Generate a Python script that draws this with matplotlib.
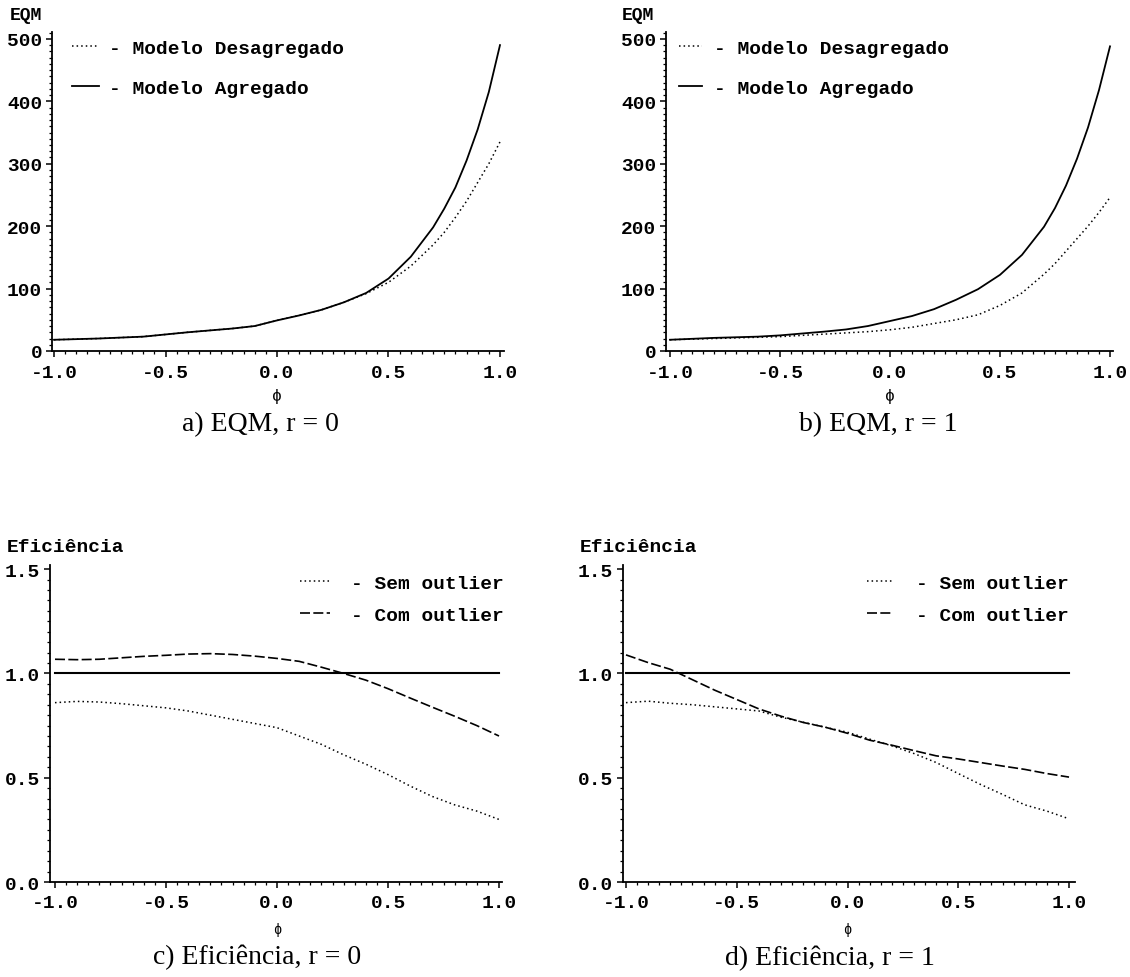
import matplotlib
matplotlib.use("Agg")
import matplotlib.pyplot as plt
from matplotlib.ticker import MultipleLocator, FormatStrFormatter

# data

# EQM panels: extra points near the steep end
phi_eqm = [-1.0, -0.9, -0.8, -0.7, -0.6, -0.5, -0.4, -0.3, -0.2, -0.1, 0.0,
           0.1, 0.2, 0.3, 0.4, 0.5, 0.6, 0.7, 0.75, 0.8, 0.85, 0.9, 0.95, 1.0]

# EQM, r = 0
eqm_desag_r0 = [18, 19, 20, 21.5, 23, 26.5, 30, 33, 36, 40, 49,
                57, 66, 78, 92, 110, 136, 170, 190, 214, 240, 270, 300, 335]
eqm_agreg_r0 = [18, 19, 20, 21.5, 23, 26.5, 30, 33, 36, 40, 49,
                57, 66, 78, 93, 116, 151, 198, 228, 262, 305, 355, 415, 490]

# EQM, r = 1
eqm_desag_r1 = [18, 19, 20, 21, 22, 23, 25, 27, 29, 31, 34,
                38, 44, 50, 58, 73, 93, 123, 140, 160, 180, 200, 222, 246]
eqm_agreg_r1 = [18, 19.5, 21, 22, 23, 25, 28, 31, 34.5, 40, 48,
                56, 67, 82, 99, 122, 154, 199, 229, 265, 308, 358, 418, 488]

# Eficiencia panels
phi = [-1.0, -0.9, -0.8, -0.7, -0.6, -0.5, -0.4, -0.3, -0.2, -0.1, 0.0,
       0.1, 0.2, 0.3, 0.4, 0.5, 0.6, 0.7, 0.8, 0.9, 1.0]

# Eficiencia, r = 0
ef_sem_r0 = [0.86, 0.866, 0.863, 0.855, 0.845, 0.835, 0.82, 0.80, 0.78, 0.76, 0.74,
             0.70, 0.66, 0.61, 0.565, 0.515, 0.46, 0.41, 0.37, 0.34, 0.30]
ef_com_r0 = [1.068, 1.066, 1.068, 1.075, 1.082, 1.087, 1.093, 1.095, 1.091, 1.083, 1.072,
             1.058, 1.03, 1.0, 0.968, 0.927, 0.882, 0.838, 0.795, 0.75, 0.70]

# Eficiencia, r = 1
ef_sem_r1 = [0.86, 0.867, 0.857, 0.85, 0.84, 0.83, 0.82, 0.79, 0.766, 0.742, 0.718,
             0.685, 0.653, 0.616, 0.573, 0.52, 0.468, 0.42, 0.37, 0.34, 0.303]
ef_com_r1 = [1.089, 1.052, 1.02, 0.97, 0.92, 0.875, 0.83, 0.795, 0.765, 0.742, 0.713,
             0.68, 0.656, 0.63, 0.605, 0.59, 0.573, 0.556, 0.54, 0.52, 0.503]

ref_x = [-1.0, 1.0]
ref_y = [1.0, 1.0]

captions = ["a) EQM, r = 0", "b) EQM, r = 1",
            "c) Eficiência, r = 0", "d) Eficiência, r = 1"]

W, H = 1130, 978
MONO = "Liberation Mono"
SERIF = "Liberation Serif"

fig = plt.figure(figsize=(W / 100, H / 100), dpi=100)


def px_axes(left, right, top, bottom):
    return fig.add_axes([left / W, 1 - bottom / H, (right - left) / W, (bottom - top) / H])


def style(ax, xlim, ylim, ymajor, yminor, yfmt):
    ax.set_xlim(*xlim)
    ax.set_ylim(*ylim)
    for s in ["top", "right"]:
        ax.spines[s].set_visible(False)
    for s in ["left", "bottom"]:
        ax.spines[s].set_linewidth(1.3)
    ax.xaxis.set_major_locator(MultipleLocator(0.5))
    ax.xaxis.set_minor_locator(MultipleLocator(0.05))
    ax.xaxis.set_major_formatter(FormatStrFormatter("%.1f"))
    ax.yaxis.set_major_locator(MultipleLocator(ymajor))
    ax.yaxis.set_minor_locator(MultipleLocator(yminor))
    ax.yaxis.set_major_formatter(FormatStrFormatter(yfmt))
    ax.tick_params(which="major", length=4, width=1.1, direction="out")
    ax.tick_params(which="minor", length=2, width=0.9, direction="out")
    ax.tick_params(axis="x", pad=5)
    ax.tick_params(axis="y", pad=3)
    for lab in ax.get_xticklabels() + ax.get_yticklabels():
        lab.set_fontfamily(MONO)
        lab.set_fontweight("bold")
        lab.set_fontsize(14)


def legend(ax, x_px, top_px, hl, htp, ls):
    ax.legend(loc="upper left",
              bbox_to_anchor=(x_px / W, 1 - top_px / H),
              bbox_transform=fig.transFigure,
              frameon=False, borderpad=0, borderaxespad=0,
              handlelength=hl, handletextpad=htp, labelspacing=ls,
              prop=dict(family=MONO, weight="bold", size=14))


dot = dict(color="black", lw=1.1, linestyle=(0, (1, 2)))
sol = dict(color="black", lw=1.3)
dash = dict(color="black", lw=1.2, linestyle=(0, (6, 2)))

# a) EQM, r = 0
ax_a = px_axes(52, 504, 33, 352)
ax_a.plot(phi_eqm, eqm_desag_r0, label="- Modelo Desagregado", **dot)
ax_a.plot(phi_eqm, eqm_agreg_r0, label="- Modelo Agregado", **sol)
style(ax_a, (-1.009, 1.018), (0, 511), 100, 10, "%d")
legend(ax_a, 72, 40, 1.4, 0.5, 1.16)

# b) EQM, r = 1
ax_b = px_axes(666, 1113, 33, 352)
ax_b.plot(phi_eqm, eqm_desag_r1, label="- Modelo Desagregado", **dot)
ax_b.plot(phi_eqm, eqm_agreg_r1, label="- Modelo Agregado", **sol)
style(ax_b, (-1.018, 1.0136), (0, 511), 100, 10, "%d")
legend(ax_b, 679, 40, 1.2, 0.6, 1.16)

# c) Eficiencia, r = 0
ax_c = px_axes(50, 502, 566, 883)
ax_c.plot(ref_x, ref_y, color="black", lw=1.5)
ax_c.plot(phi, ef_sem_r0, label="- Sem outlier", **dot)
ax_c.plot(phi, ef_com_r0, label="- Com outlier", **dash)
style(ax_c, (-1.0225, 1.0135), (0, 1.52), 0.5, 0.05, "%.1f")
legend(ax_c, 300, 575, 1.55, 1.08, 0.76)

# d) Eficiencia, r = 1
ax_d = px_axes(623, 1075, 566, 883)
ax_d.plot(ref_x, ref_y, color="black", lw=1.5)
ax_d.plot(phi, ef_sem_r1, label="- Sem outlier", **dot)
ax_d.plot(phi, ef_com_r1, label="- Com outlier", **dash)
style(ax_d, (-1.0135, 1.027), (0, 1.52), 0.5, 0.05, "%.1f")
legend(ax_d, 867, 575, 1.35, 1.15, 0.76)


def ftext(x, y, s, **kw):
    fig.text(x / W, 1 - y / H, s, **kw)


# axis titles above the y axes
ftext(10, 15, "EQM", family=MONO, weight="bold", size=13, va="center")
ftext(622, 15, "EQM", family=MONO, weight="bold", size=13, va="center")
ftext(7, 547, "Eficiência", family=MONO, weight="bold", size=14, va="center")
ftext(580, 547, "Eficiência", family=MONO, weight="bold", size=14, va="center")

# phi under the x axes
ftext(277, 397, "ϕ", family=[MONO, "DejaVu Sans"], size=12, ha="center", va="center")
ftext(890, 397, "ϕ", family=[MONO, "DejaVu Sans"], size=12, ha="center", va="center")
ftext(277, 930, "ϕ", family=[MONO, "DejaVu Sans"], size=10, ha="center", va="center")
ftext(847, 930, "ϕ", family=[MONO, "DejaVu Sans"], size=10, ha="center", va="center")

# captions
for (cx, cy), txt in zip([(260, 425), (878, 425), (257, 957), (830, 958)], captions):
    ftext(cx, cy, txt, family=SERIF, size=20, ha="center", va="center")

fig.savefig("out.png", dpi=100)
